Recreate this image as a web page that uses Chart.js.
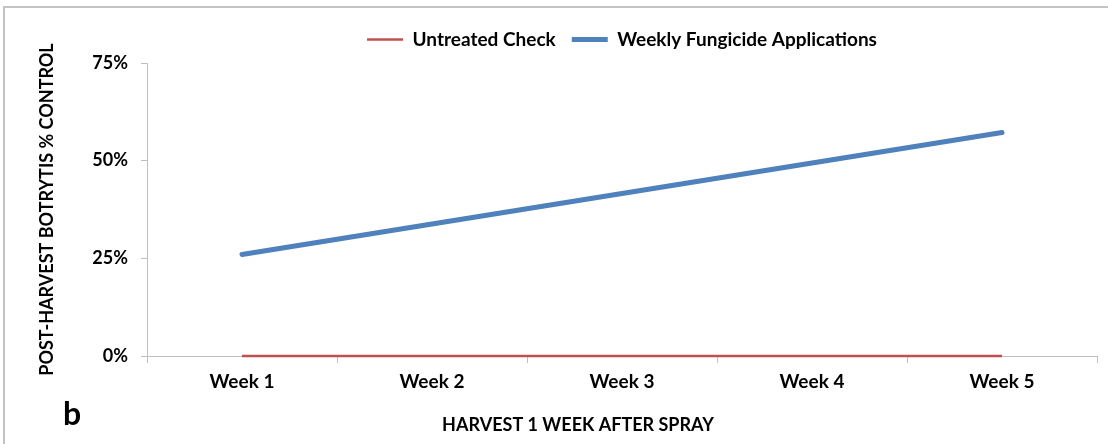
<!DOCTYPE html>
<html>
<head>
<meta charset="utf-8">
<script src="https://cdn.jsdelivr.net/npm/chart.js@4/dist/chart.umd.min.js"></script>
<style>
  html, body { margin: 0; padding: 0; background: #fff; }
  #wrap { position: relative; width: 1108px; height: 444px; }
  #frame { position: absolute; left: 3px; top: 6px; right: 0; bottom: 0;
           border-left: 2px solid #c4c4c4; border-top: 2px solid #c4c4c4; pointer-events: none; }
</style>
</head>
<body>
<div id="wrap">
  <canvas id="chart"></canvas>
  <div id="frame"></div>
</div>
<script>
const weeks = ["Week 1", "Week 2", "Week 3", "Week 4", "Week 5"];
const untreated = [0, 0, 0, 0, 0];
const weeklyFungicide = [0.26, 0.338, 0.416, 0.494, 0.572];
const yTicks = [0, 0.25, 0.5, 0.75];

const FONT = "Lato, 'Open Sans', sans-serif";

// extra texts placed like the original sheet
const extraText = {
  id: "extraText",
  afterDraw(chart) {
    const ctx = chart.ctx;
    ctx.save();
    ctx.fillStyle = "#000";
    ctx.textAlign = "center";
    ctx.textBaseline = "middle";
    ctx.font = "bold 18px " + FONT;
    ctx.fillText("HARVEST 1 WEEK AFTER SPRAY", 578, 425);
    ctx.textAlign = "left";
    ctx.textBaseline = "alphabetic";
    ctx.font = "bold 32px " + FONT;
    ctx.fillText("b", 63, 425);
    ctx.restore();
  }
};

const ctx = document.getElementById("chart").getContext("2d");
const chart = new Chart(ctx, {
  type: "line",
  data: {
    labels: weeks,
    datasets: [
      {
        label: "Untreated Check",
        data: untreated,
        borderColor: "#c0504d",
        backgroundColor: "#c0504d",
        borderWidth: 2.5,
        pointRadius: 0,
        pointStyle: "line",
        clip: false,
      },
      {
        label: "Weekly Fungicide Applications",
        data: weeklyFungicide,
        borderColor: "#4f81bd",
        backgroundColor: "#4f81bd",
        borderWidth: 5,
        borderCapStyle: "round",
        pointRadius: 0,
        pointStyle: "line",
        clip: false,
      },
    ],
  },
  options: {
    responsive: true,
    maintainAspectRatio: false,
    animation: false,
    layout: { padding: { top: 14, right: 11, bottom: 0, left: 0 } },
    plugins: {
      legend: {
        position: "top",
        fullSize: false,
        labels: {
          usePointStyle: true,
          pointStyleWidth: 36,
          padding: 16,
          color: "#000",
          font: { family: FONT, size: 19, weight: "bold" },
        },
      },
      tooltip: { enabled: false },
    },
    scales: {
      x: {
        offset: true,
        grid: { offset: true, drawOnChartArea: false, tickLength: 7, color: "#bfbfbf" },
        border: { color: "#bfbfbf" },
        ticks: { padding: 7, color: "#000", font: { family: FONT, size: 19, weight: "bold" } },
        afterFit: s => { s.height = 88; },
      },
      y: {
        min: 0,
        max: 0.75,
        afterBuildTicks: s => { s.ticks = yTicks.map(v => ({ value: v })); },
        grid: { drawOnChartArea: false, tickLength: 6, color: "#bfbfbf" },
        border: { color: "#bfbfbf" },
        ticks: {
          padding: 13,
          color: "#000",
          font: { family: FONT, size: 18, weight: "bold" },
          callback: v => Math.round(v * 100) + "%",
        },
        title: {
          display: true,
          text: "POST-HARVEST BOTRYTIS % CONTROL",
          color: "#000",
          font: { family: FONT, size: 18, weight: "bold" },
          padding: { top: 36, bottom: 0 },
        },
        afterFit: s => { s.width = 147; },
      },
    },
  },
  plugins: [extraText],
});

// a little more room under the legend, like the original
const legendFit = chart.legend.fit;
chart.legend.fit = function () {
  legendFit.call(this);
  this.height += 4;
};
chart.update();
</script>
</body>
</html>
